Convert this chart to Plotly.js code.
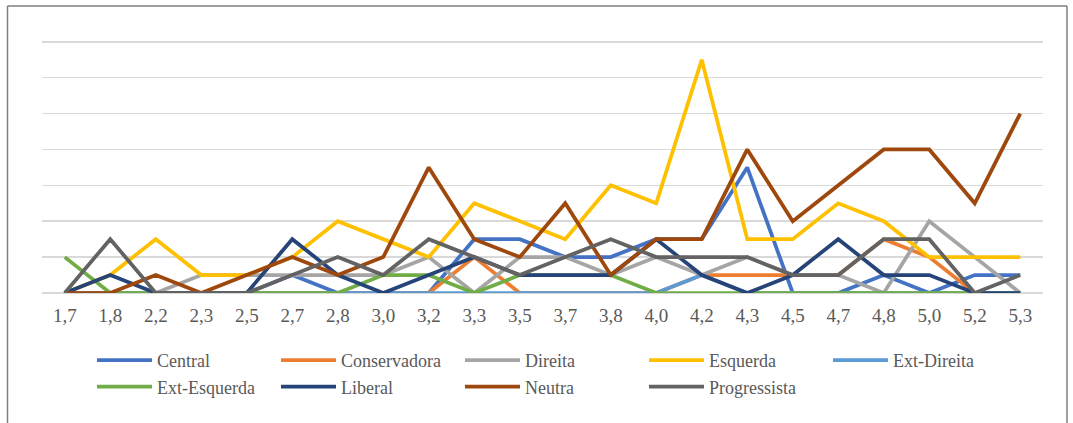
<!DOCTYPE html>
<html>
<head>
<meta charset="utf-8">
<script src="https://cdn.plot.ly/plotly-3.0.1.min.js"></script>
<style>
  html, body { margin: 0; padding: 0; background: #ffffff; }
  #chart { width: 1073px; height: 423px; }
</style>
</head>
<body>
<div id="chart"></div>
<script>
const categories = ['1,7','1,8','2,2','2,3','2,5','2,7','2,8','3,0','3,2','3,3','3,5','3,7','3,8','4,0','4,2','4,3','4,5','4,7','4,8','5,0','5,2','5,3'];

const central      = [0,0,0,0,0,1,0,0,0,3,3,2,2,3,3,7,0,0,1,0,1,1];
const conservadora = [0,0,0,0,0,0,0,0,0,2,0,0,0,0,1,1,1,1,3,2,0,0];
const direita      = [0,0,0,1,1,1,1,1,2,0,2,2,1,2,1,2,1,1,0,4,2,0];
const esquerda     = [0,1,3,1,1,2,4,3,2,5,4,3,6,5,13,3,3,5,4,2,2,2];
const extDireita   = [0,0,0,0,0,0,0,0,0,0,0,0,0,0,1,0,0,0,0,0,0,0];
const extEsquerda  = [2,0,0,0,0,0,0,1,1,0,1,1,1,0,0,0,0,0,0,0,0,0];
const liberal      = [0,1,0,0,0,3,1,0,1,2,1,1,1,3,1,0,1,3,1,1,0,0];
const neutra       = [0,0,1,0,1,2,1,2,7,3,2,5,1,3,3,8,4,6,8,8,5,10];
const progressista = [0,3,0,0,0,1,2,1,3,2,1,2,3,2,2,2,1,1,3,3,0,1];

const seriesNames  = ['Central','Conservadora','Direita','Esquerda','Ext-Direita','Ext-Esquerda','Liberal','Neutra','Progressista'];
const seriesValues = [central, conservadora, direita, esquerda, extDireita, extEsquerda, liberal, neutra, progressista];
const seriesColors = ['#4472C4','#ED7D31','#A5A5A5','#FFC000','#5B9BD5','#70AD47','#264478','#9E480E','#636363'];

const serif = "'Liberation Serif', 'Times New Roman', Times, serif";

const traces = seriesNames.map((name, i) => ({
  type: 'scatter',
  mode: 'lines',
  name: name,
  x: categories,
  y: seriesValues[i],
  line: { color: seriesColors[i], width: 3.75 }
}));

const L = 42, R = 30, T = 40, B = 130, W = 1073, H = 423;
const pw = W - L - R, ph = H - T - B;
const px = v => (v - L) / pw;
const py = v => (H - B - v) / ph;

const layout = {
  width: W, height: H,
  margin: { l: L, r: R, t: T, b: B },
  paper_bgcolor: '#ffffff',
  plot_bgcolor: '#ffffff',
  font: { family: serif, color: '#595959', size: 18 },
  showlegend: true,
  xaxis: {
    type: 'category',
    range: [-0.5, categories.length - 0.5],
    showgrid: false,
    showline: false,
    zeroline: false,
    ticks: '',
    ticklabelstandoff: 9,
    tickfont: { family: serif, size: 19, color: '#595959' },
    fixedrange: true
  },
  yaxis: {
    range: [0, 14.1],
    dtick: 2,
    showticklabels: false,
    showgrid: true,
    gridcolor: '#d9d9d9',
    gridwidth: 1.5,
    zeroline: true,
    zerolinecolor: '#d9d9d9',
    zerolinewidth: 1.5,
    fixedrange: true
  },
  legend: {
    orientation: 'h',
    x: px(92),
    xanchor: 'left',
    y: py(342),
    yanchor: 'top',
    itemwidth: 55,
    entrywidth: 114,
    entrywidthmode: 'pixels',
    tracegroupgap: 0,
    font: { family: serif, size: 18, color: '#595959' },
    bgcolor: 'rgba(0,0,0,0)'
  },
  shapes: [
    { type: 'line', xref: 'paper', yref: 'paper', x0: px(7.5), x1: px(1067), y0: py(6), y1: py(6), line: { color: '#7f7f7f', width: 1.5 } },
    { type: 'line', xref: 'paper', yref: 'paper', x0: px(7.5), x1: px(7.5), y0: py(6), y1: py(423), line: { color: '#7f7f7f', width: 1.5 } },
    { type: 'line', xref: 'paper', yref: 'paper', x0: px(1067), x1: px(1067), y0: py(6), y1: py(423), line: { color: '#7f7f7f', width: 1.5 } }
  ]
};

Plotly.newPlot('chart', traces, layout, { displayModeBar: false, staticPlot: true });
</script>
</body>
</html>
